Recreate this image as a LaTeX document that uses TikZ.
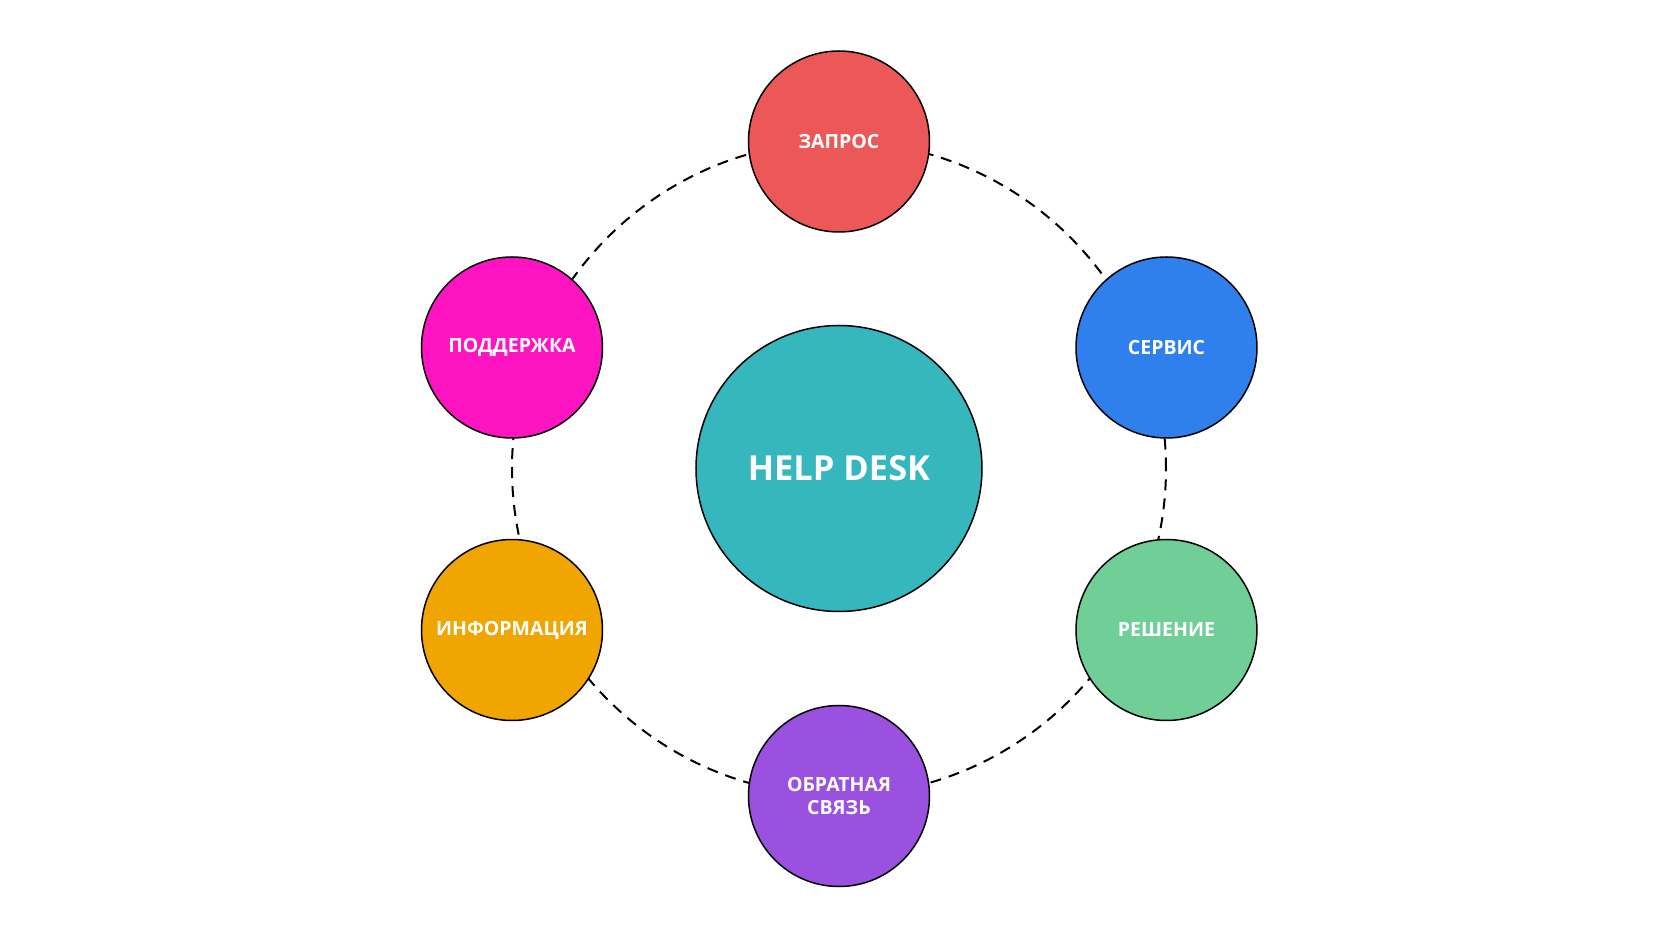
\documentclass[tikz,border=0pt]{standalone}
\usepackage{fontspec}
\setmainfont{Open Sans}
\usetikzlibrary{backgrounds}

\definecolor{hubteal}{HTML}{36B6BD}
\definecolor{zaprosred}{HTML}{EC5858}
\definecolor{servisblue}{HTML}{2F80EC}
\definecolor{reshgreen}{HTML}{6FCF97}
\definecolor{svyazpurple}{HTML}{9B51E0}
\definecolor{infoorange}{HTML}{F0A500}
\definecolor{suppmagenta}{HTML}{FF14C1}

\begin{document}
\begin{tikzpicture}[
  bubble/.style = {circle, line width = 0.3mm, draw = black, inner sep = 0pt, minimum size = 3.62cm, text = white, align = center, font = \fontsize{11.1}{13.6}\selectfont\bfseries},
  ring/.style = {line width = 0.4mm, dash pattern = on 2.2mm off 1.6mm}
]
\useasboundingbox (-16.78, -9.37) rectangle (16.82, 9.37);

\node[bubble, minimum size = 5.72cm, fill = hubteal, font = \fontsize{19.6}{23}\selectfont\bfseries] (hub) at (0, 0) {HELP DESK};

\node[bubble, fill = zaprosred] (zapros) at (0, 6.54) {ЗАПРОС};
\node[bubble, fill = servisblue] (servis) at (6.55, 2.42) {СЕРВИС};
\node[bubble, fill = reshgreen] (reshenie) at (6.55, -3.23) {РЕШЕНИЕ};
\node[bubble, fill = svyazpurple] (svyaz) at (0, -6.55) {ОБРАТНАЯ\\СВЯЗЬ};
\node[bubble, fill = infoorange] (info) at (-6.54, -3.23) {ИНФОРМАЦИЯ};
\node[bubble, fill = suppmagenta] (podderzhka) at (-6.54, 2.42) {ПОДДЕРЖКА};

\begin{scope}[on background layer]
\draw[ring] (hub.center) circle (6.54);
\end{scope}

\end{tikzpicture}
\end{document}
